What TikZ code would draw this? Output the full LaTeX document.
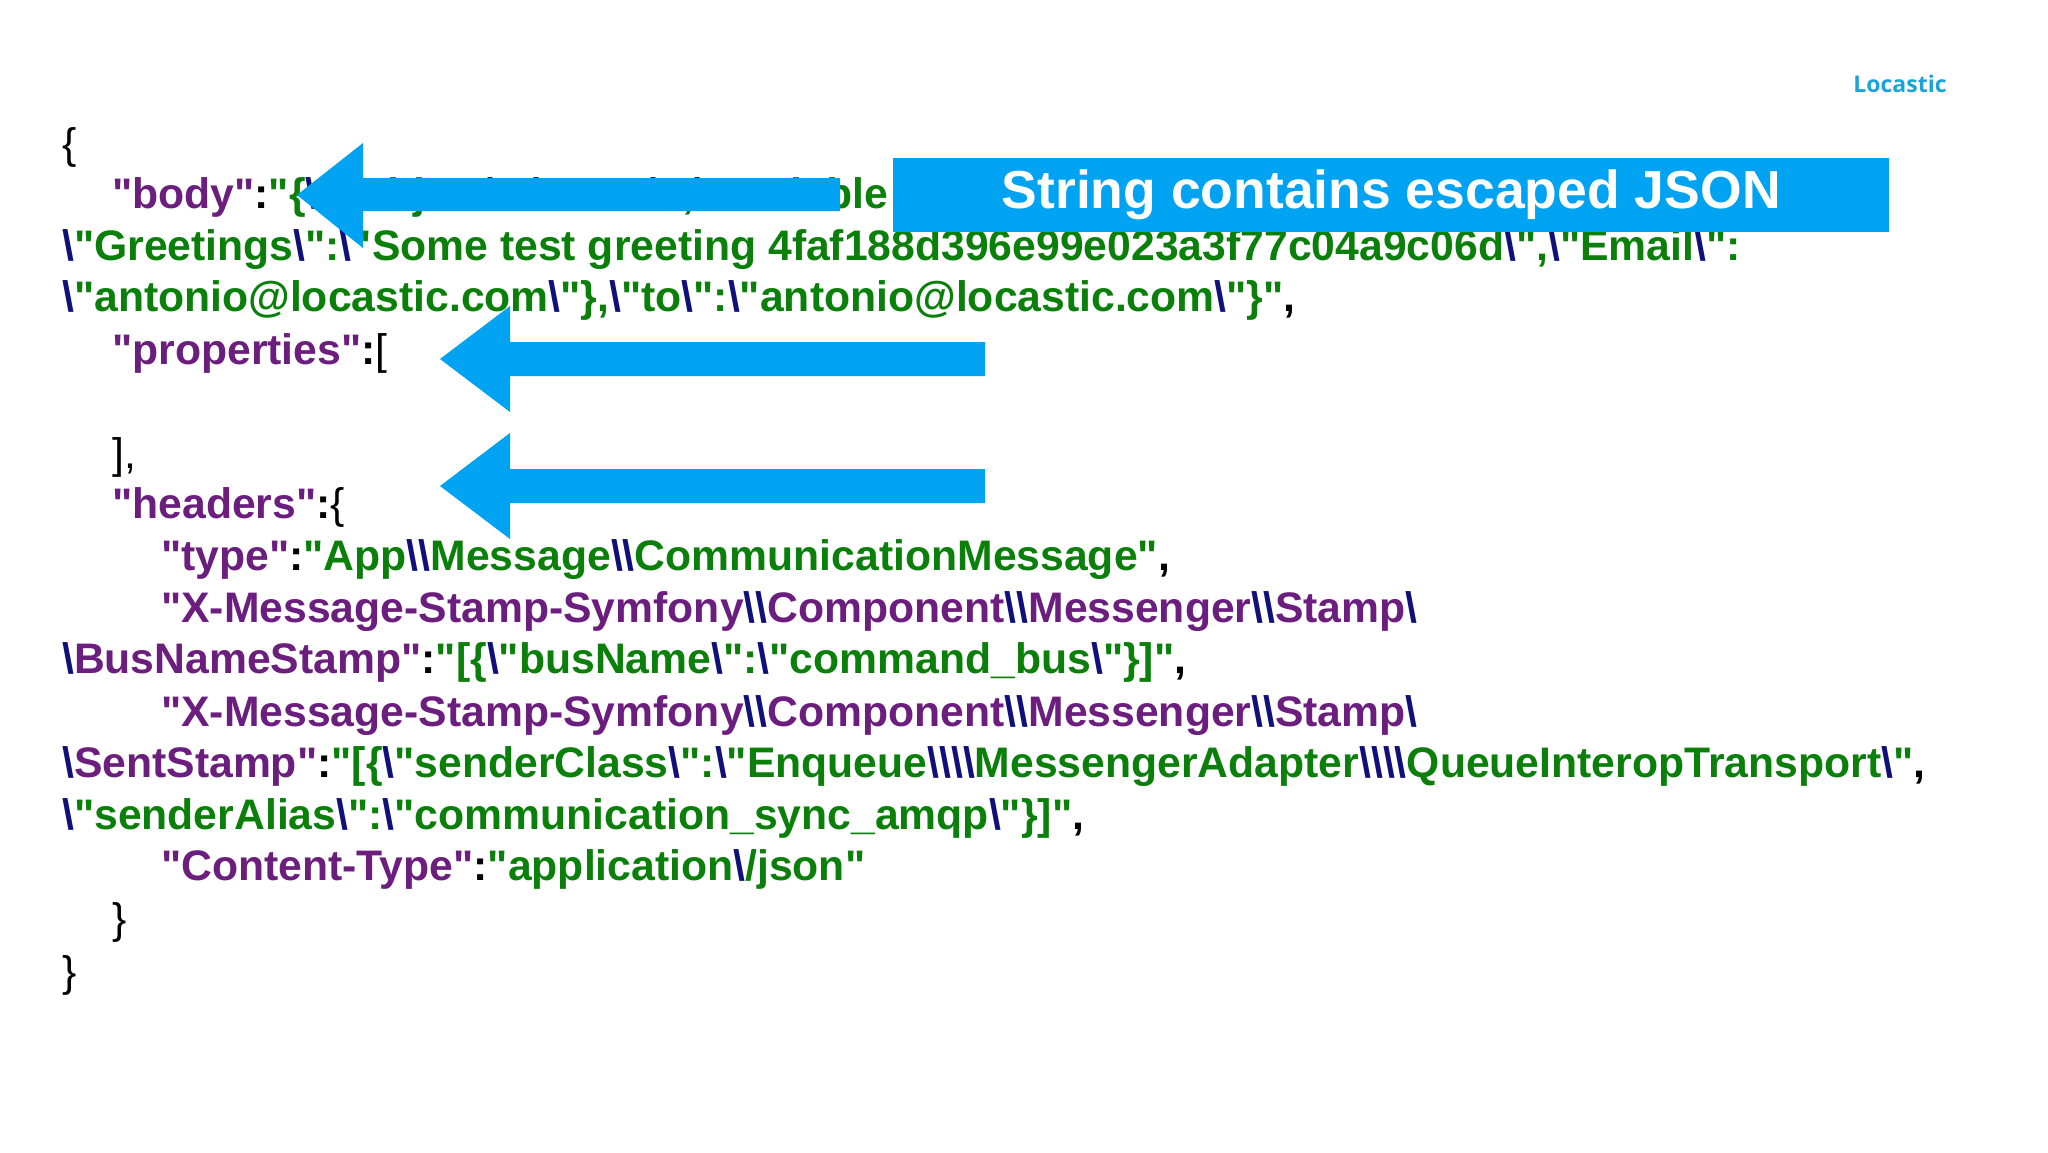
\documentclass[tikz,border=0pt]{standalone}
\usepackage{fontspec}
\newfontfamily\codefont{Liberation Sans}
\newfontfamily\logofont{Open Sans}
\definecolor{kpur}{HTML}{6B1E7E}
\definecolor{vgrn}{HTML}{0A7F0A}
\definecolor{bsnavy}{HTML}{10107A}
\definecolor{arrblue}{HTML}{00A2F2}
\definecolor{logoblue}{HTML}{1BA3DC}
\newcommand\bs{{\color{bsnavy}\textbackslash}}
\newcommand\K[1]{{\color{kpur}#1}}
\newcommand\V[1]{{\color{vgrn}#1}}
\begin{document}
\begin{tikzpicture}[x=1pt,y=-1pt,
  code/.style={anchor=base west,inner sep=0pt,font=\codefont\fontsize{42.7}{42.7}\selectfont\bfseries},
  brace/.style={anchor=base west,inner sep=0pt,font=\codefont\fontsize{42.7}{42.7}\selectfont},
  arr/.style={fill=arrblue,draw=none}]
\useasboundingbox (0,0) rectangle (2048,1152);
\fill[white] (0,0) rectangle (2048,1152);
\node[anchor=center,font=\logofont\bfseries\fontsize{23}{23}\selectfont,text=logoblue] (logo) at (1900,84) {Locastic};
\node[brace] (l1) at (62,158) {\{};
\node[code] (l2) at (112,208) {\K{"body"}:\V{"\{\bs"subject\bs":\bs"Test\bs",\bs"variable}};
\node[code] (l3) at (62,260) {\V{\bs"Greetings\bs":\bs"Some test greeting 4faf188d396e99e023a3f77c04a9c06d\bs",\bs"Email\bs":}};
\node[code] (l4) at (62,311) {\V{\bs"antonio@locastic.com\bs"\},\bs"to\bs":\bs"antonio@locastic.com\bs"\}"},};
\node[code] (l5) at (112,364) {\K{"properties"}:{\mdseries[}};
\node[brace] (l6) at (112,468) {],};
\node[code] (l7) at (112,518) {\K{"headers"}:{\mdseries\{}};
\node[code] (l8) at (161,570) {\K{"type"}:\V{"App\bs\bs Message\bs\bs CommunicationMessage"},};
\node[code] (l9) at (161,622) {\K{"X-Message-Stamp-Symfony\bs\bs Component\bs\bs Messenger\bs\bs Stamp\bs}};
\node[code] (l10) at (62,673) {\K{\bs BusNameStamp"}:\V{"[\{\bs"busName\bs":\bs"command\_bus\bs"\}]"},};
\node[code] (l11) at (161,726) {\K{"X-Message-Stamp-Symfony\bs\bs Component\bs\bs Messenger\bs\bs Stamp\bs}};
\node[code] (l12) at (62,777) {\K{\bs SentStamp"}:\V{"[\{\bs"senderClass\bs":\bs"Enqueue\bs\bs\bs\bs MessengerAdapter\bs\bs\bs\bs QueueInteropTransport\bs"},};
\node[code] (l13) at (62,829) {\V{\bs"senderAlias\bs":\bs"communication\_sync\_amqp\bs"\}]"},};
\node[code] (l14) at (161,880) {\K{"Content-Type"}:\V{"application\bs/json"}};
\node[brace] (l15) at (112,933) {\}};
\node[brace] (l16) at (62,986) {\}};
% arrows
\fill[arr] (297,195) -- (363,143) -- (363,178) -- (840,178) -- (840,211) -- (363,211) -- (363,248) -- cycle;
\fill[arr] (440,359) -- (510,306) -- (510,342) -- (985,342) -- (985,376) -- (510,376) -- (510,412) -- cycle;
\fill[arr] (440,486) -- (510,433) -- (510,469) -- (985,469) -- (985,503) -- (510,503) -- (510,539) -- cycle;
\node[fill=arrblue,minimum width=996pt,minimum height=74pt,inner sep=0pt,anchor=north west,
  text=white,font=\codefont\fontsize{53.5}{53.5}\selectfont\bfseries] (box) at (893,158) {String contains escaped JSON};
\end{tikzpicture}
\end{document}
